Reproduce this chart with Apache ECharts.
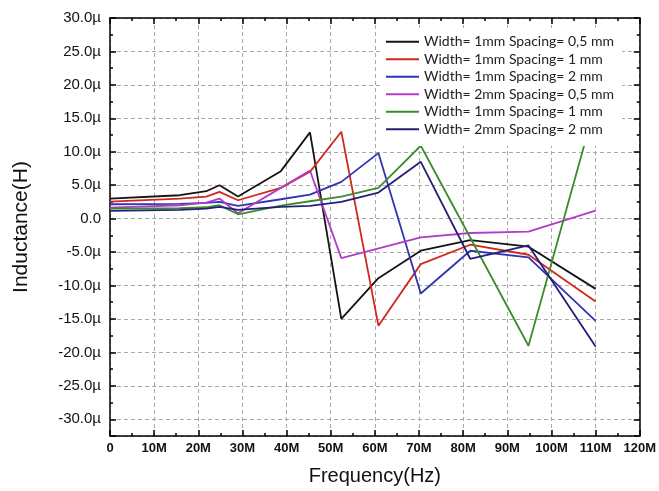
<!DOCTYPE html>
<html>
<head>
<meta charset="utf-8">
<script src="https://cdn.jsdelivr.net/npm/echarts@6/dist/echarts.min.js"></script>
<style>
html,body{margin:0;padding:0;background:#fff;}
#chart{width:659px;height:491px;}
</style>
</head>
<body>
<div id="chart"></div>
<script>
// Frequencies in MHz
const freqCommon = [0, 15.8, 21.8, 24.8, 29, 38.7, 45.3, 52.4, 60.8, 70.4, 81.6, 94.8, 110];
const freqMagenta = [0, 15.8, 21.8, 24.8, 29, 38.7, 45.3, 52.4, 70.4, 81.6, 94.8, 110];
const freqGreen = [0, 15.8, 21.8, 24.8, 29, 38.7, 45.3, 52.4, 60.8, 70.4, 94.8, 107.6];

// Inductance in µH
const w1s05 = [3.0, 3.5, 4.1, 5.0, 3.3, 7.1, 12.9, -15.0, -8.9, -4.8, -3.2, -4.2, -10.5];
const w1s1 = [2.55, 3.0, 3.3, 4.0, 2.75, 4.6, 7.0, 13.0, -16.0, -6.8, -3.9, -5.4, -12.4];
const w1s2 = [2.15, 2.2, 2.35, 2.5, 1.9, 2.9, 3.6, 5.5, 9.8, -11.2, -4.8, -5.8, -15.3];
const w2s05 = [1.65, 2.0, 2.4, 3.0, 0.8, 4.6, 7.2, -5.9, -2.8, -2.15, -1.95, 1.2];
const w1s1b = [1.5, 1.55, 1.7, 2.0, 0.65, 1.95, 2.6, 3.3, 4.6, 10.9, -19.0, 11.4];
const w2s2 = [1.15, 1.3, 1.5, 1.75, 1.3, 1.75, 1.9, 2.5, 3.9, 8.5, -6.0, -4.0, -19.1];

const legendLabels = [
  'Width= 1mm Spacing= 0,5 mm',
  'Width= 1mm Spacing= 1 mm',
  'Width= 1mm Spacing= 2 mm',
  'Width= 2mm Spacing= 0,5 mm',
  'Width= 1mm Spacing= 1 mm',
  'Width= 2mm Spacing= 2 mm'
];
const xTickLabels = ['0','10M','20M','30M','40M','50M','60M','70M','80M','90M','100M','110M','120M'];

const colors = ['#141414', '#d0281c', '#3333b4', '#b03cc8', '#3a8c2c', '#232078'];
const seriesX = [freqCommon, freqCommon, freqCommon, freqMagenta, freqGreen, freqCommon];
const seriesY = [w1s05, w1s1, w1s2, w2s05, w1s1b, w2s2];

const chart = echarts.init(document.getElementById('chart'), null, {renderer: 'canvas'});

const gridLine = {show: true, lineStyle: {color: '#a8a8a8', type: [4, 3], width: 1}};
const axisLineStyle = {show: true, onZero: false, lineStyle: {color: '#000', width: 1.5}};

const series = seriesY.map((ys, i) => ({
  name: 'L' + i,
  type: 'line',
  xAxisIndex: 0,
  yAxisIndex: 0,
  symbol: 'none',
  smooth: false,
  color: colors[i],
  lineStyle: {width: 1.8, color: colors[i]},
  data: ys.map((v, j) => [seriesX[i][j], v]),
  z: 3
}));

chart.setOption({
  animation: false,
  backgroundColor: '#fff',
  grid: {left: 110, right: 17, top: 18, bottom: 53, containLabel: false},
  xAxis: [{
    type: 'value', position: 'bottom', min: 0, max: 120, interval: 10,
    axisLine: axisLineStyle,
    axisTick: {show: true, inside: true, length: 6, lineStyle: {color: '#000', width: 1.5}},
    minorTick: {show: true, splitNumber: 2, length: 3, lineStyle: {color: '#000', width: 1.5}},
    splitLine: gridLine,
    axisLabel: {
      margin: 6, color: '#111', fontFamily: 'Liberation Sans', fontWeight: 'bold', fontSize: 13,
      formatter: v => xTickLabels[Math.round(v / 10)]
    },
    name: 'Frequency(Hz)', nameLocation: 'middle', nameGap: 30,
    nameTextStyle: {fontFamily: 'Liberation Sans', fontSize: 20, color: '#111'}
  }, {
    type: 'value', position: 'top', min: 0, max: 120, interval: 10,
    axisLine: axisLineStyle,
    axisTick: {show: true, inside: true, length: 6, lineStyle: {color: '#000', width: 1.5}},
    minorTick: {show: true, splitNumber: 2, length: 3, lineStyle: {color: '#000', width: 1.5}},
    splitLine: {show: false},
    axisLabel: {show: false}
  }],
  yAxis: [{
    type: 'value', position: 'left', min: -32.5, max: 30, minInterval: 5, maxInterval: 5, splitNumber: 12,
    axisLine: axisLineStyle,
    axisTick: {show: true, inside: true, length: 6, lineStyle: {color: '#000', width: 1.5}},
    minorTick: {show: true, splitNumber: 2, length: 3, lineStyle: {color: '#000', width: 1.5}},
    splitLine: gridLine,
    axisLabel: {
      margin: 9, color: '#111', fontFamily: 'Liberation Sans', fontSize: 15,
      formatter: v => {
        if (Math.abs(v % 5) > 1e-6) return '';
        if (v === 0) return '0.0';
        return v.toFixed(1) + 'µ';
      }
    },
    name: 'Inductance(H)', nameLocation: 'middle', nameGap: 78,
    nameTextStyle: {fontFamily: 'Liberation Sans', fontSize: 21, color: '#111'}
  }, {
    type: 'value', position: 'right', min: -32.5, max: 30, minInterval: 5, maxInterval: 5, splitNumber: 12,
    axisLine: axisLineStyle,
    axisTick: {show: true, inside: true, length: 6, lineStyle: {color: '#000', width: 1.5}},
    minorTick: {show: true, splitNumber: 2, length: 3, lineStyle: {color: '#000', width: 1.5}},
    splitLine: {show: false},
    axisLabel: {show: false}
  }],
  legend: {
    show: true,
    orient: 'vertical',
    left: 380, top: 28,
    padding: [5, 8, 8, 6],
    backgroundColor: '#fff',
    itemGap: 0,
    itemWidth: 33, itemHeight: 2,
    icon: 'rect',
    data: series.map(s => s.name),
    formatter: name => legendLabels[+name.slice(1)],
    textStyle: {fontFamily: 'Lato', fontSize: 14, color: '#222', lineHeight: 17.5, padding: [0, 0, 0, 0]},
    z: 10
  },
  series: series
});
</script>
</body>
</html>
